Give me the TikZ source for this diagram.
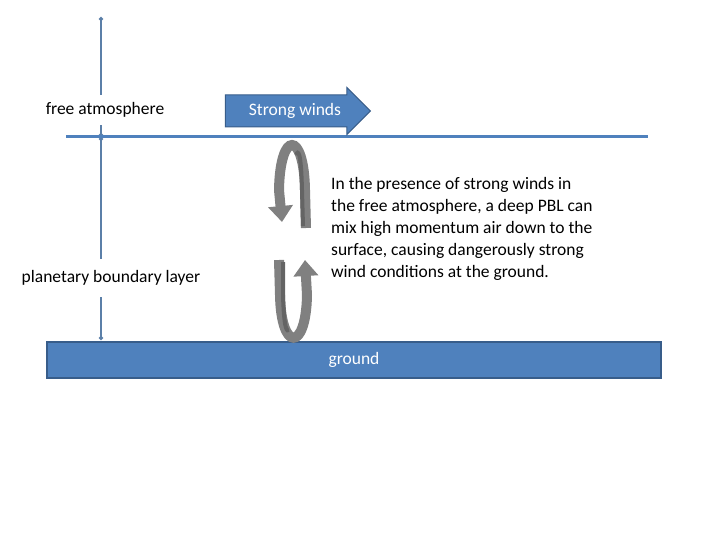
\documentclass[tikz,border=0pt]{standalone}
\usepackage{fontspec}
\setmainfont{Carlito}
\usetikzlibrary{arrows.meta,shapes.arrows}
\definecolor{bl}{HTML}{4F81BD}
\definecolor{bd}{HTML}{385D8A}
\definecolor{ax}{HTML}{5B7FA8}
\definecolor{gr}{HTML}{808080}
\definecolor{gd}{HTML}{646464}
\begin{document}
\begin{tikzpicture}[x=1pt,y=-1pt,
  lbl/.style={font=\fontsize{17.5}{21}\selectfont,inner sep=0},
  axl/.style={ax,line width=2pt,{Circle[length=4pt]}-{Circle[length=4pt]}},
  loop/.style={gr,line width=10pt,-{Triangle[width=24pt,length=16pt]}},
  stripe/.style={gd,line width=4pt}]
\useasboundingbox (0,0) rectangle (720,540);
\coordinate (a0) at (101,17); \coordinate (a1) at (101,137);
\coordinate (a2) at (101,340);
\draw[axl] (a0)--(a1); \draw[axl] (a1)--(a2);
\coordinate (h0) at (66,137); \coordinate (h1) at (648,137);
\draw[bl,line width=3pt] (h0)--(h1);
\node[lbl,fill=white,inner ysep=8pt,inner xsep=2pt] (fa) at (105,110) {free atmosphere};
\node[lbl,fill=white,inner ysep=12pt,inner xsep=2pt] (pbl) at (111,278) {planetary boundary layer};
\node[single arrow,fill=bl,draw=bd,line width=1pt,minimum height=145pt,minimum width=46pt,
  single arrow head extend=7.5pt,single arrow tip angle=90,inner sep=0,inner ysep=15.5pt,anchor=tip] (sw) at (371,111) {};
\node[lbl,text=white] (swt) at (295,111) {Strong winds};
\node[fill=bl,draw=bd,line width=1.5pt,minimum width=614pt,minimum height=36pt,inner sep=0] (gnd) at (354,360) {};
\node[lbl,text=white] (gt) at (354,360) {ground};
\node[lbl,align=left,anchor=north west,font=\fontsize{17.5}{22}\selectfont] (txt) at (331,177)
{In the presence of strong winds in\\the free atmosphere, a deep PBL can\\mix high momentum air down to the\\surface, causing dangerously strong\\wind conditions at the ground.};
\coordinate (l0) at (306,228); \coordinate (l1) at (282,222);
\coordinate (r0) at (279,260); \coordinate (r1) at (305,260);
\draw[loop] (l0) -- (305,190) .. controls (304,130) and (280,130) .. (279,190) -- (l1);
\draw[stripe] (303,226) -- (302,190) .. controls (301,150) and (298,150) .. (296,155);
\draw[loop] (r0) -- (280,295) .. controls (281,352) and (306,352) .. (307,295) -- (r1);
\draw[stripe] (283,262) -- (283,295) .. controls (284,330) and (287,332) .. (289,330);
\end{tikzpicture}
\end{document}
